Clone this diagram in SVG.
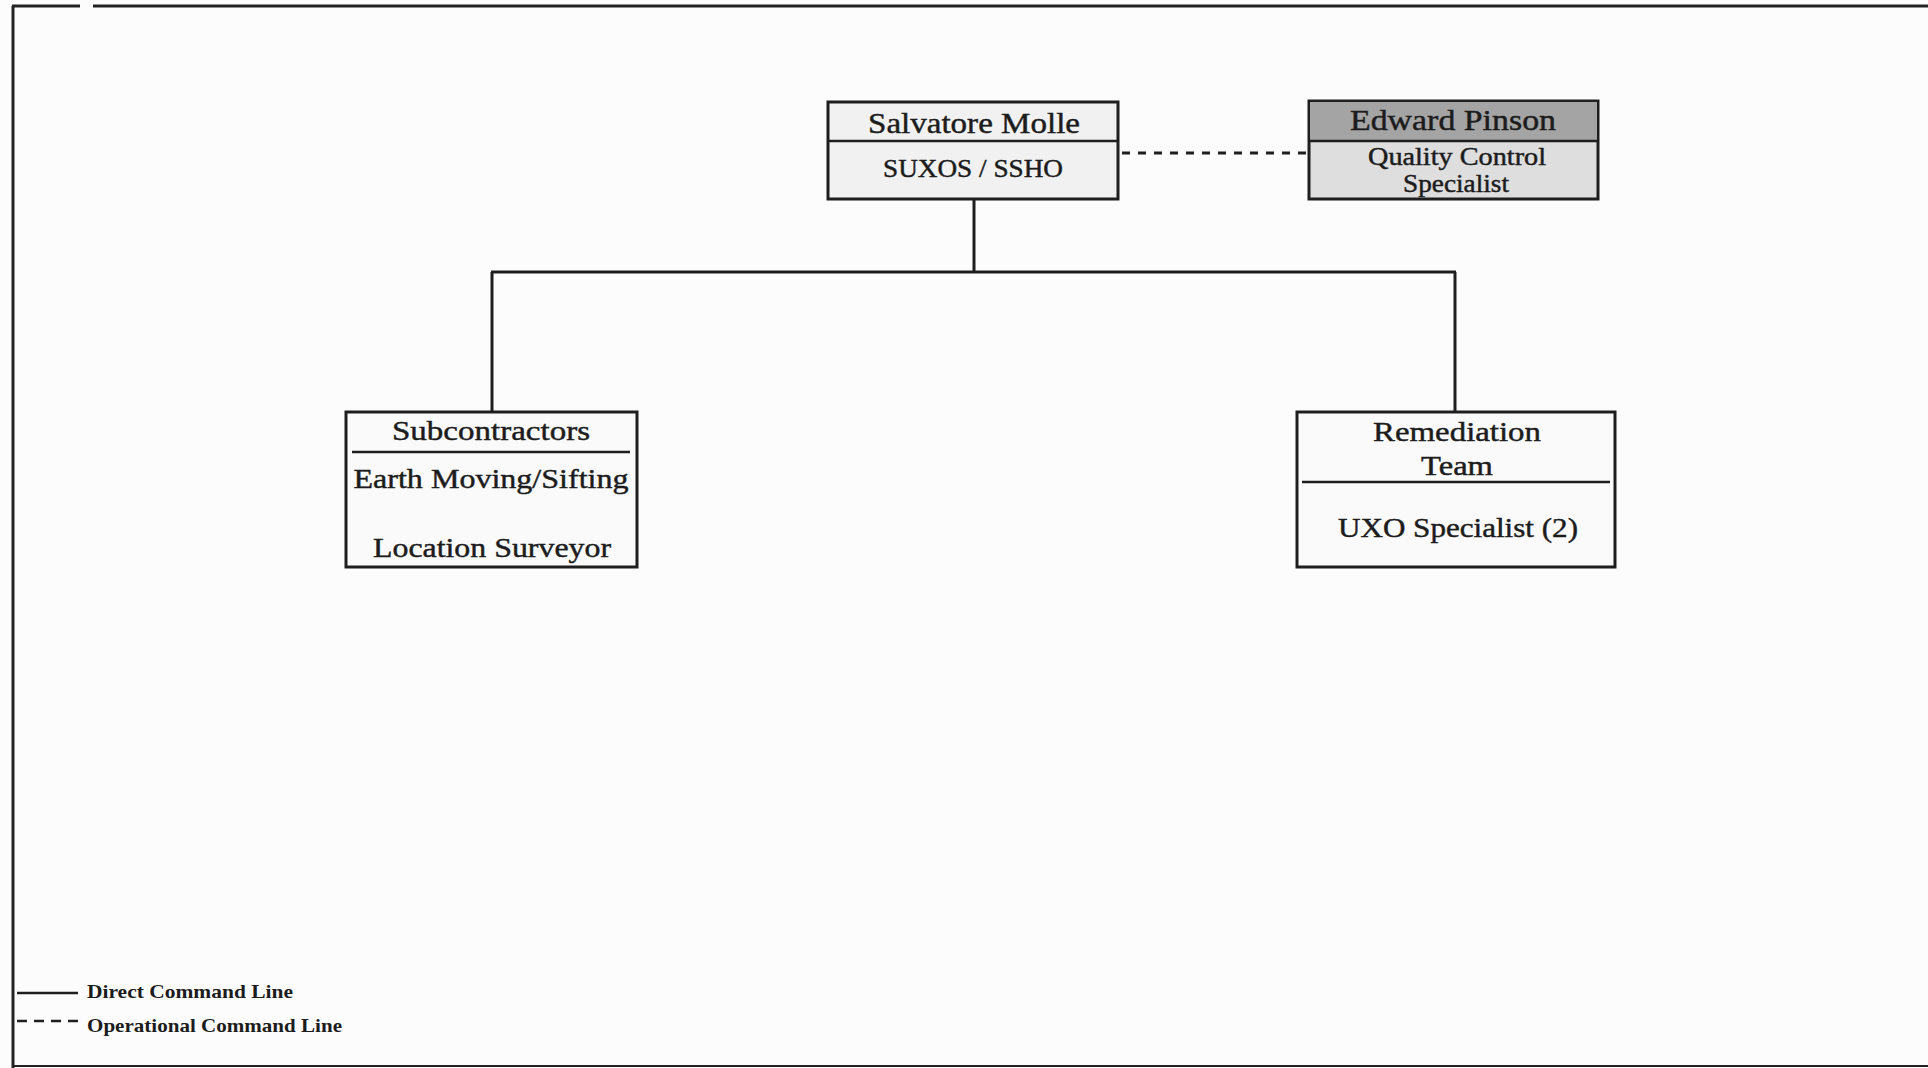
<svg xmlns="http://www.w3.org/2000/svg" width="1928" height="1068" viewBox="0 0 1928 1068">
<style>
.box{fill:#fafafa;stroke:#1e1e1e;stroke-width:3}
.div{stroke:#1e1e1e;stroke-width:2.5}
.t{font-family:"Liberation Serif","Times New Roman",serif;fill:#1c1c1c;stroke:#1c1c1c;stroke-width:0.45;text-anchor:middle}
.lg{font-family:"Liberation Serif","Times New Roman",serif;fill:#1c1c1c;font-weight:bold;font-size:19px}
.solid{stroke:#1e1e1e;stroke-width:3;fill:none}
.dash{stroke:#1e1e1e;stroke-width:3;fill:none;stroke-dasharray:8 8}
</style>
<rect width="1928" height="1068" fill="#fcfcfc"/>
<g id="frame" fill="none" stroke="#222">
<line x1="12" y1="6" x2="80" y2="6" stroke-width="3"/>
<line x1="93" y1="6" x2="1928" y2="6" stroke-width="3"/>
<line x1="13" y1="6" x2="13" y2="1068" stroke-width="3"/>
<line x1="13" y1="1066" x2="1928" y2="1066" stroke-width="2"/>
</g>
<g id="connectors">
<line class="solid" x1="974" y1="200" x2="974" y2="272"/>
<line class="solid" x1="491" y1="272" x2="1456" y2="272"/>
<line class="solid" x1="492" y1="272" x2="492" y2="412"/>
<line class="solid" x1="1455" y1="272" x2="1455" y2="413"/>
<line class="dash" x1="1122" y1="153" x2="1310" y2="153"/>
</g>
<g id="salvatore">
<rect class="box" x="828" y="102" width="290" height="97" style="fill:#f1f1f1"/>
<line class="div" x1="828" y1="141" x2="1118" y2="141"/>
<text class="t" x="974" y="133" font-size="30" textLength="212" lengthAdjust="spacingAndGlyphs">Salvatore Molle</text>
<text class="t" x="973" y="177" font-size="26" textLength="180" lengthAdjust="spacingAndGlyphs">SUXOS / SSHO</text>
</g>
<g id="pinson">
<rect class="box" x="1309" y="101" width="289" height="98" style="fill:#dedede"/>
<rect x="1310" y="102" width="287" height="38" fill="#a4a4a4"/>
<line class="div" x1="1309" y1="141" x2="1598" y2="141"/>
<text class="t" x="1453" y="130" font-size="30" textLength="206" lengthAdjust="spacingAndGlyphs">Edward Pinson</text>
<text class="t" x="1457" y="165" font-size="25" textLength="178" lengthAdjust="spacingAndGlyphs">Quality Control</text>
<text class="t" x="1456" y="192" font-size="25" textLength="106" lengthAdjust="spacingAndGlyphs">Specialist</text>
</g>
<g id="subcontractors">
<rect class="box" x="346" y="412" width="291" height="155"/>
<line class="div" x1="352" y1="452" x2="630" y2="452"/>
<text class="t" x="491" y="440" font-size="28" textLength="198" lengthAdjust="spacingAndGlyphs">Subcontractors</text>
<text class="t" x="491" y="488" font-size="28" textLength="275" lengthAdjust="spacingAndGlyphs">Earth Moving/Sifting</text>
<text class="t" x="492" y="557" font-size="28" textLength="238" lengthAdjust="spacingAndGlyphs">Location Surveyor</text>
</g>
<g id="remediation">
<rect class="box" x="1297" y="412" width="318" height="155"/>
<line class="div" x1="1302" y1="482" x2="1610" y2="482"/>
<text class="t" x="1457" y="441" font-size="28" textLength="168" lengthAdjust="spacingAndGlyphs">Remediation</text>
<text class="t" x="1457" y="475" font-size="28" textLength="72" lengthAdjust="spacingAndGlyphs">Team</text>
<text class="t" x="1458" y="537" font-size="28" textLength="240" lengthAdjust="spacingAndGlyphs">UXO Specialist (2)</text>
</g>
<g id="legend">
<line x1="17" y1="993" x2="78" y2="993" stroke="#1e1e1e" stroke-width="2.5"/>
<line x1="17" y1="1021" x2="78" y2="1021" stroke="#1e1e1e" stroke-width="2.5" stroke-dasharray="10 7"/>
<text class="lg" x="87" y="998" textLength="206" lengthAdjust="spacingAndGlyphs">Direct Command Line</text>
<text class="lg" x="87" y="1032" textLength="255" lengthAdjust="spacingAndGlyphs">Operational Command Line</text>
</g>
</svg>
